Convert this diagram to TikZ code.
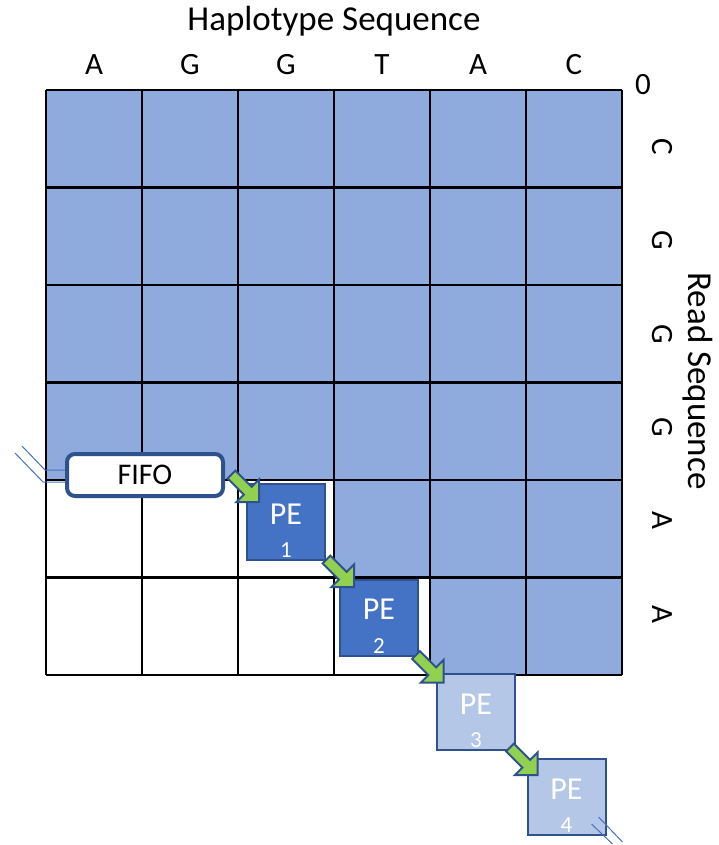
\documentclass[tikz,border=0pt]{standalone}
\usepackage{fontspec}
\setmainfont{Carlito}
\usepackage{tikz}
\usetikzlibrary{positioning,calc}
\definecolor{cellblue}{RGB}{143,170,220}
\definecolor{peblue}{RGB}{68,114,196}
\definecolor{pelight}{RGB}{180,199,231}
\definecolor{edgeblue}{RGB}{47,82,143}
\definecolor{arrgreen}{RGB}{146,208,80}

\begin{document}
\begin{tikzpicture}[
  x=1pt,y=-1pt,
  font=\fontsize{31}{36}\selectfont,
  gridline/.style={line width=2.5pt,black},
  title/.style={font=\fontsize{35}{40}\selectfont},
  fifobox/.style={draw=edgeblue,line width=4pt,rounded corners=8pt,fill=white,minimum width=156pt,minimum height=42pt,inner sep=0pt,font=\fontsize{30}{36}\selectfont},
  pe/.style={draw=edgeblue,line width=2pt,fill=peblue,text=white,minimum width=78pt,minimum height=76pt,inner sep=0pt,text height=21pt,text depth=17pt,font=\fontsize{32}{36}\selectfont},
  peidle/.style={pe,fill=pelight},
  penum/.style={text=white,inner sep=0pt,anchor=south,yshift=3pt,font=\fontsize{23}{26}\selectfont},
  wire/.style={peblue,line width=1pt},
  flowarr/.pic={\draw[draw=edgeblue,fill=arrgreen,line width=2pt]
    (0,-5.5) -- (23,-5.5) -- (23,-16) -- (39,0) -- (23,16) -- (23,5.5) -- (0,5.5) -- cycle;},
]
\useasboundingbox (0,0) rectangle (718,845);

% matrix cells
\fill[cellblue] (46,90) rectangle (622,675);
\fill[white] (46,480) rectangle (334,577);
\fill[white] (46,577) rectangle (430,675);
\foreach \i in {0,...,6} \draw[gridline] ({46+96*\i},90) -- ({46+96*\i},675);
\foreach \i in {0,...,6} \draw[gridline] (46,{90+97.5*\i}) -- (622,{90+97.5*\i});

% haplotype along the top
\node[title,anchor=base] (hap) at (334,31) {Haplotype Sequence};
\foreach \b [count=\i from 0] in {A,G,G,T,A,C}
  \node[anchor=base] (h\i) at ({94+96*\i},75) {\b};
\node (zero) at (643,85) {0};

% read along the right side
\foreach \b [count=\i from 0] in {C,G,G,G,A,A}
  \node[rotate=-90] (r\i) at (662,{147+93.4*\i}) {\b};
\node[title,rotate=-90] (read) at (698,381) {Read Sequence};

% systolic array
\coordinate (in1) at (22,446);
\coordinate (in2) at (15,453);
\node[fifobox] (fifo) at (145,475) {FIFO};
\draw[wire] (in1) -- (45,470) -- ($(fifo.west)+(0,-5)$);
\draw[wire] (in2) -- (43,482) -- ($(fifo.west)+(0,7)$);

\node[pe,label={[penum]south:1}] (pe1) at (286,522) {PE};
\node[pe,label={[penum]south:2}] (pe2) at (379,617.5) {PE};
\node[peidle,label={[penum]south:3}] (pe3) at (476,712) {PE};
\node[peidle,label={[penum]south:4}] (pe4) at (566.5,797) {PE};

\draw[wire] ($(pe4.south east)+(-8,-19)$) -- ($(pe4.south east)+(16,6)$);
\draw[wire] ($(pe4.south east)+(-15,-12)$) -- ($(pe4.south east)+(6,8)$);

\pic[rotate=-45] at ($(pe1.north west)+(-14.5,-8.5)$) {flowarr};
\pic[rotate=-45] at ($(pe2.north west)+(-12.5,-19)$) {flowarr};
\pic[rotate=-45] at ($(pe3.north west)+(-20,-18)$) {flowarr};
\pic[rotate=-45] at ($(pe4.north west)+(-16.5,-10.5)$) {flowarr};
\end{tikzpicture}
\end{document}
